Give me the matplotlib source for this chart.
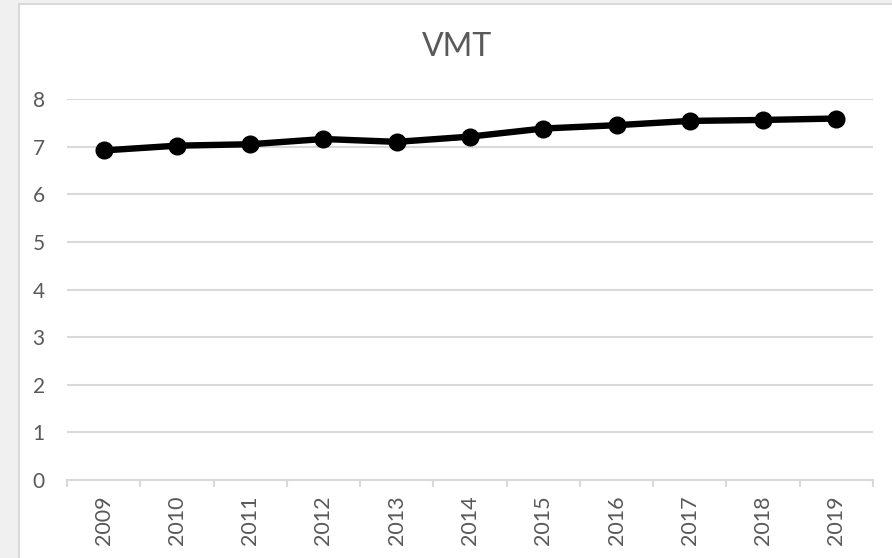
import numpy as np
import matplotlib.pyplot as plt
from matplotlib.patches import Rectangle

years = ['2009', '2010', '2011', '2012', '2013', '2014',
         '2015', '2016', '2017', '2018', '2019']
vmt = [6.92, 7.02, 7.05, 7.16, 7.10, 7.21, 7.38, 7.45, 7.54, 7.56, 7.59]

plt.rcParams['font.family'] = ['Lato', 'DejaVu Sans']

fig = plt.figure(figsize=(8.92, 5.58), dpi=100, facecolor='#f0f0f0')
# white chart area with thin gray border, kept behind the axes
fig.patches.append(Rectangle((19 / 892, -0.01), 1.0, 1 - 3.5 / 558 + 0.01,
                             transform=fig.transFigure, facecolor='white',
                             edgecolor='#d9d9d9', linewidth=1.5, zorder=-10))

ax = fig.add_axes([67 / 892, 1 - 480 / 558, (873 - 67) / 892, (480 - 99) / 558])
ax.set_facecolor('none')

x = np.arange(len(years))
ax.plot(x, vmt, color='black', linewidth=4.6, marker='o', markersize=12,
        solid_capstyle='round', zorder=3)

ax.set_xlim(-0.5, len(years) - 0.5)
ax.set_ylim(0, 8)
ax.set_yticks(range(0, 9))
ax.yaxis.grid(True, color='#d9d9d9', linewidth=1.5)
ax.set_axisbelow(True)

for s in ['top', 'right', 'left']:
    ax.spines[s].set_visible(False)
ax.spines['bottom'].set_color('#d9d9d9')
ax.spines['bottom'].set_linewidth(1.5)

ax.set_xticks(x)
ax.set_xticklabels(years, rotation=90, va='top')
ax.set_xticks(np.arange(-0.5, len(years)), minor=True)
ax.tick_params(axis='x', which='major', length=0, pad=11, labelsize=15.5,
               labelcolor='#595959')
ax.tick_params(axis='x', which='minor', length=5, width=1.5, color='#d9d9d9')
ax.tick_params(axis='y', length=0, pad=16, labelsize=15, labelcolor='#595959')

fig.text(0.512, 1 - 47 / 558, 'VMT', ha='center', va='center',
         fontsize=23, color='#595959')

fig.savefig('out.png', dpi=100, facecolor=fig.get_facecolor())
